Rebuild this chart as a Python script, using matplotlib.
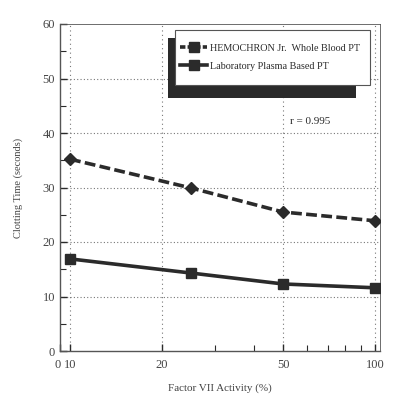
import matplotlib.pyplot as plt
from matplotlib.patches import Rectangle
from matplotlib.lines import Line2D

# factor VII activity (%) and clotting times (seconds)
activity = [10, 25, 50, 100]
whole_blood_pt = [35.2, 29.9, 25.5, 23.9]
plasma_pt = [16.9, 14.3, 12.3, 11.6]

x_ticks = [10, 20, 50, 100]
x_ticklabels = ["10", "20", "50", "100"]
y_ticks = [0, 10, 20, 30, 40, 50, 60]

plt.rcParams['font.family'] = ['Liberation Serif', 'DejaVu Serif']
ink = "#2b2b2b"

fig = plt.figure(figsize=(3.93, 3.98), dpi=100)
ax = fig.add_axes([60 / 393, 1 - 351 / 398, 320 / 393, 327 / 398])

ax.set_xscale("log")
ax.set_xlim(9.27, 104)
ax.set_ylim(0, 60)

# grid (dotted)
for y in [10, 20, 30, 40, 50]:
    ax.axhline(y, color="#777777", linestyle=(0, (1, 2)), linewidth=0.8, zorder=1)
for x in x_ticks:
    ax.axvline(x, color="#777777", linestyle=(0, (1, 3)), linewidth=0.8, zorder=1)

ax.plot(activity, whole_blood_pt, color=ink, linestyle=(0, (3, 1.2)), linewidth=2.6,
        marker="D", markersize=6, zorder=3)
ax.plot(activity, plasma_pt, color=ink, linestyle="-", linewidth=2.6,
        marker="s", markersize=6.5, zorder=3)

ax.set_xticks([9.27] + x_ticks)
ax.set_xticklabels(["0 "] + x_ticklabels)
ax.set_xticks([30, 40, 60, 70, 80, 90], minor=True)
ax.xaxis.set_minor_formatter(plt.NullFormatter())
ax.set_yticks(y_ticks)
ax.set_yticks([5, 15, 25, 35, 45, 55], minor=True)

ax.tick_params(axis="both", which="both", direction="in", colors=ink, labelsize=9,
               top=False, right=False)
ax.tick_params(axis="both", which="major", length=5, width=1)
ax.tick_params(axis="both", which="minor", length=4, width=0.8)
ax.tick_params(axis="x", pad=6)
for lab in ax.get_xticklabels() + ax.get_yticklabels():
    lab.set_color("#444444")

for side in ["left", "bottom", "right", "top"]:
    ax.spines[side].set_color("#555555")
    ax.spines[side].set_linewidth(1.0)
ax.spines["top"].set_linewidth(0.6)
ax.spines["right"].set_linewidth(0.6)

ax.set_xlabel("Factor VII Activity (%)", fontsize=8, color="#444444", labelpad=9)
ax.set_ylabel("Clotting Time (seconds)", fontsize=7.5, color="#444444", labelpad=14)

# legend box with a dark offset shadow
ax.add_patch(Rectangle((0.3375, 0.774), 0.5875, 0.183, transform=ax.transAxes,
                       facecolor="#2a2a2a", edgecolor="none", zorder=4))
ax.add_patch(Rectangle((0.36, 0.813), 0.61, 0.169, transform=ax.transAxes,
                       facecolor="white", edgecolor="#555555", linewidth=0.8, zorder=5))
handles = [
    Line2D([], [], color=ink, linestyle=(0, (1.5, 0.6)), linewidth=2.6, marker="s", markersize=7),
    Line2D([], [], color=ink, linestyle="-", linewidth=2.6, marker="s", markersize=7),
]
leg = ax.legend(handles, ["HEMOCHRON Jr.  Whole Blood PT", "Laboratory Plasma Based PT"],
                loc="center left", bbox_to_anchor=(0.375, 0.898), frameon=False,
                fontsize=7.3, handlelength=2.7, handletextpad=0.3, borderpad=0.0,
                borderaxespad=0.0, labelspacing=0.9)
leg.set_zorder(6)
for t in leg.get_texts():
    t.set_color(ink)

ax.text(0.72, 0.695, "r = 0.995", transform=ax.transAxes, fontsize=8, color=ink)

fig.savefig("out.png", dpi=100)
